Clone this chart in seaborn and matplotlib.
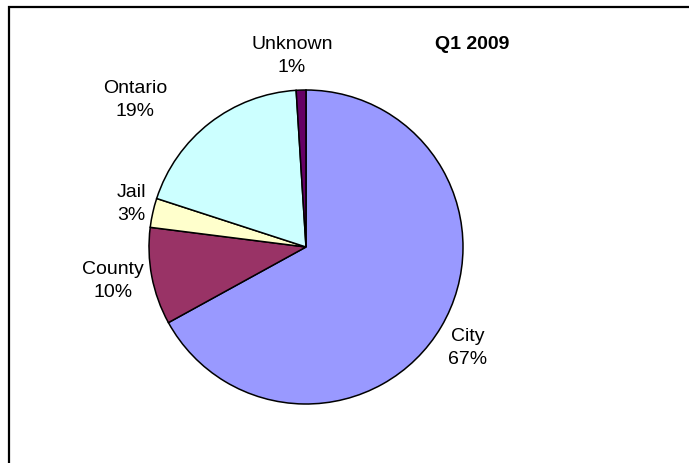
import matplotlib
matplotlib.use("Agg")
import matplotlib.pyplot as plt
from matplotlib.patches import Rectangle
import seaborn as sns

categories = ["City", "County", "Jail", "Ontario", "Unknown"]
shares = [67, 10, 3, 19, 1]
colors = ["#9999FF", "#993366", "#FFFFCC", "#CCFFFF", "#660066"]
title = "Q1 2009"

# label anchor points (pie radius = 1)
label_pos = [(1.032, -0.643), (-1.232, -0.217), (-1.115, 0.274),
             (-1.089, 0.936), (-0.089, 1.217)]

sns.set_theme(style="white")
plt.rcParams["font.family"] = ["Liberation Sans", "DejaVu Sans"]

W, H = 689, 463
cx, cy, R = 306, 247, 157

fig = plt.figure(figsize=(W / 100, H / 100), dpi=100)
ax = fig.add_axes([0, 0, 1, 1])

wedges, texts = ax.pie(
    shares,
    labels=[f"{c}\n{v}%" for c, v in zip(categories, shares)],
    colors=colors,
    startangle=90,
    counterclock=False,
    radius=1.0,
    wedgeprops=dict(edgecolor="black", linewidth=1.1),
    textprops=dict(fontsize=14, color="black", linespacing=1.4),
)
for t, (x, y) in zip(texts, label_pos):
    t.set_position((x, y))
    t.set_ha("center")
    t.set_va("center")

ax.set_xlim(-cx / R, (W - cx) / R)
ax.set_ylim(-(H - cy) / R, cy / R)
ax.set_aspect("equal", adjustable="datalim")
ax.axis("off")

ax.text((472 - cx) / R, (cy - 44.5) / R, title, ha="center", va="center",
        fontsize=14, fontweight="bold", color="black")

fig.patches.append(Rectangle((9 / W, -0.05), 1.1, 1 - 7 / H + 0.05,
                             transform=fig.transFigure, fill=False,
                             edgecolor="black", linewidth=1.6))

fig.savefig("out.png", dpi=100, facecolor="white")
